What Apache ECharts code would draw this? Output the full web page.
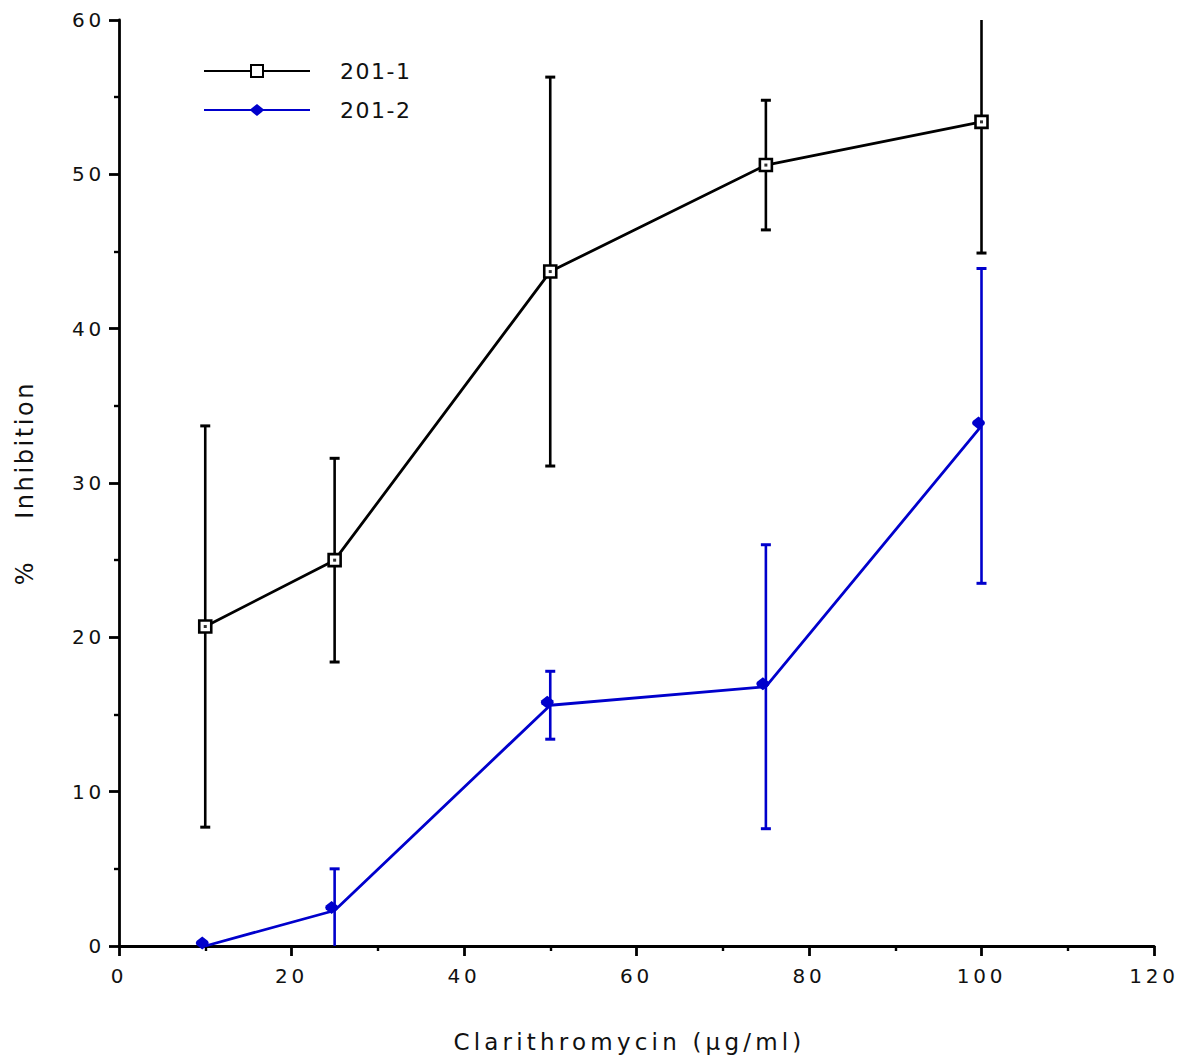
<!DOCTYPE html>
<html>
<head>
<meta charset="utf-8">
<script src="https://cdn.jsdelivr.net/npm/echarts@6/dist/echarts.min.js"></script>
<style>
  html, body { margin: 0; padding: 0; background: #fff; }
  #chart { width: 1181px; height: 1063px; }
  /* wide, evenly spaced lettering for the axis texts */
  #chart text { white-space: pre; }
  #chart text[style*="20px"] { letter-spacing: 3.8px; }
  #chart text[style*="23px"] { letter-spacing: 4.2px; }
  #chart text[style*="24px"] { letter-spacing: 2.6px; }
  #chart text[style*="22px"] { letter-spacing: 1.5px; }
</style>
</head>
<body>
<div id="chart"></div>
<script>
// Clarithromycin dose (µg/ml)
const doses = [10, 25, 50, 75, 100];

// % inhibition, strain 201-1, with ± error
const inhibition1 = [20.7, 25.0, 43.7, 50.6, 53.4];
const error1 = [13.0, 6.6, 12.6, 4.2, 8.5];

// % inhibition, strain 201-2, with ± error
const inhibition2 = [0, 2.3, 15.6, 16.8, 33.7];
const error2 = [0, 2.7, 2.2, 9.2, 10.2];

const seriesNames = ['201-1', '201-2'];

const X_MIN = 0, X_MAX = 120, X_STEP = 20;
const Y_MIN = 0, Y_MAX = 60, Y_STEP = 10;

const FONT = 'DejaVu Sans';
const BLACK = '#000000';
const BLUE = '#0000cc';
const TEXT = '#111111';

function errorBars(color) {
  return function (params, api) {
    const x = api.value(0), y = api.value(1), e = api.value(2);
    if (!e) return null;
    const hi = y + e, lo = y - e;
    const top = api.coord([x, Math.min(hi, Y_MAX)]);
    const bot = api.coord([x, Math.max(lo, Y_MIN)]);
    const half = 5;
    const stem = { stroke: color, lineWidth: 2.6, fill: null };
    const cap = { stroke: color, lineWidth: 3, fill: null };
    const children = [{
      type: 'line',
      shape: { x1: top[0], y1: top[1], x2: bot[0], y2: bot[1] },
      style: stem
    }];
    if (hi <= Y_MAX) {
      children.push({ type: 'line', shape: { x1: top[0] - half, y1: top[1], x2: top[0] + half, y2: top[1] }, style: cap });
    }
    if (lo >= Y_MIN) {
      children.push({ type: 'line', shape: { x1: bot[0] - half, y1: bot[1], x2: bot[0] + half, y2: bot[1] }, style: cap });
    }
    return { type: 'group', children: children };
  };
}

const pairs = (ys) => doses.map((d, i) => [d, ys[i]]);
const triples = (ys, es) => doses.map((d, i) => [d, ys[i], es[i]]);

const axisCommon = {
  axisLine: { show: true, onZero: false, lineStyle: { color: BLACK, width: 2.8 } },
  axisTick: { show: true, inside: false, length: 10, lineStyle: { color: BLACK, width: 2.8 } },
  minorTick: { show: true, splitNumber: 2, length: 5, lineStyle: { color: BLACK, width: 2.4 } },
  splitLine: { show: false },
  minorSplitLine: { show: false },
  axisLabel: { color: TEXT, fontFamily: FONT, fontSize: 20 },
  nameTextStyle: { color: TEXT, fontFamily: FONT }
};

const diamond = 'path://M6,0 L10.8,4.2 Q12,6 10.8,7.8 L6,12 L1.2,7.8 Q0,6 1.2,4.2 Z';

const option = {
  animation: false,
  backgroundColor: '#ffffff',
  grid: { left: 119, right: 27, top: 20, bottom: 117, containLabel: false, outerBoundsMode: 'none' },
  legend: {
    orient: 'vertical',
    left: 203,
    top: 60,
    padding: 0,
    itemWidth: 106,
    itemHeight: 15,
    itemGap: 17,
    selectedMode: false,
    data: seriesNames,
    textStyle: { color: TEXT, fontFamily: FONT, fontSize: 22, padding: [0, 0, 0, 25] }
  },
  xAxis: Object.assign({}, axisCommon, {
    type: 'value',
    min: X_MIN, max: X_MAX, interval: X_STEP,
    name: 'Clarithromycin (µg/ml)',
    nameLocation: 'middle',
    nameGap: 84,
    nameTextStyle: { color: TEXT, fontFamily: FONT, fontSize: 23, padding: [0, 14, 0, 0] },
    axisLabel: Object.assign({}, axisCommon.axisLabel, { margin: 20 })
  }),
  yAxis: Object.assign({}, axisCommon, {
    type: 'value',
    min: Y_MIN, max: Y_MAX, interval: Y_STEP,
    name: '%    Inhibition',
    nameLocation: 'middle',
    nameGap: 82,
    nameTextStyle: { color: TEXT, fontFamily: FONT, fontSize: 24 },
    axisLabel: Object.assign({}, axisCommon.axisLabel, { margin: 14 })
  }),
  series: [
    {
      type: 'custom',
      name: 'err-201-1',
      z: 1,
      silent: true,
      renderItem: errorBars(BLACK),
      encode: { x: 0, y: 1 },
      data: triples(inhibition1, error1)
    },
    {
      type: 'custom',
      name: 'err-201-2',
      z: 1,
      silent: true,
      renderItem: errorBars(BLUE),
      encode: { x: 0, y: 1 },
      data: triples(inhibition2, error2)
    },
    {
      type: 'line',
      name: seriesNames[0],
      z: 3,
      data: pairs(inhibition1),
      symbol: 'rect',
      symbolSize: 12,
      showAllSymbol: true,
      lineStyle: { color: BLACK, width: 2.8 },
      itemStyle: { color: '#ffffff', borderColor: BLACK, borderWidth: 2.6 },
      emphasis: { disabled: true }
    },
    {
      type: 'scatter',
      name: 'dot-201-1',
      z: 4,
      silent: true,
      data: pairs(inhibition1),
      symbol: 'rect',
      symbolSize: 3,
      itemStyle: { color: BLACK }
    },
    {
      type: 'line',
      name: seriesNames[1],
      z: 3,
      data: pairs(inhibition2),
      symbol: diamond,
      symbolSize: 13,
      symbolOffset: [-3, -3],
      showAllSymbol: true,
      lineStyle: { color: BLUE, width: 2.8 },
      itemStyle: { color: BLUE },
      emphasis: { disabled: true }
    }
  ]
};

const chart = echarts.init(document.getElementById('chart'), null, { renderer: 'svg' });
chart.setOption(option);
</script>
</body>
</html>
